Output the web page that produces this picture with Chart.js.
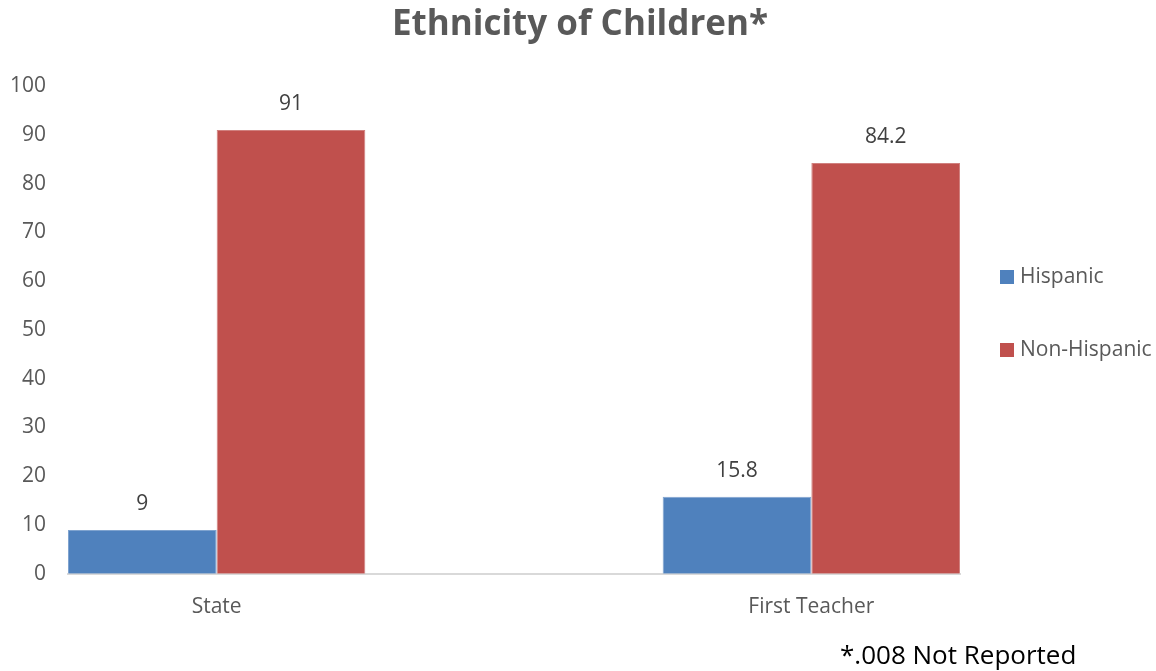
<!DOCTYPE html>
<html>
<head>
<meta charset="utf-8">
<style>
  html, body { margin: 0; padding: 0; background: #fff; }
  #wrap { position: relative; width: 1156px; height: 671px; }
  #note { position: absolute; left: 840px; top: 641px; font: 26px/26px "Open Sans", sans-serif; color: #000; white-space: nowrap; }
</style>
</head>
<body>
<div id="wrap">
  <canvas id="ethnicityChart" width="1156" height="671"></canvas>
  <div id="note">*.008 Not Reported</div>
</div>
<script src="https://cdn.jsdelivr.net/npm/chart.js"></script>
<script>
  const categories = ['State', 'First Teacher'];
  const hispanic = [9, 15.8];
  const nonHispanic = [91, 84.2];
  const yTicks = [0, 10, 20, 30, 40, 50, 60, 70, 80, 90, 100];

  const FONT = '"Open Sans", sans-serif';

  // value above each bar
  const valueLabels = {
    id: 'valueLabels',
    afterDatasetsDraw(chart) {
      const ctx = chart.ctx;
      ctx.save();
      ctx.font = '21px ' + FONT;
      ctx.fillStyle = '#404040';
      ctx.textAlign = 'center';
      ctx.textBaseline = 'middle';
      chart.data.datasets.forEach((ds, i) => {
        chart.getDatasetMeta(i).data.forEach((bar, j) => {
          ctx.fillText(String(ds.data[j].y), bar.x, bar.y - 26);
        });
      });
      ctx.restore();
    }
  };

  // legend on the right, Excel style spacing
  const sideLegend = {
    id: 'sideLegend',
    afterDraw(chart) {
      const ctx = chart.ctx;
      const x = chart.chartArea.right + 40;
      ctx.save();
      ctx.font = '21px ' + FONT;
      ctx.textBaseline = 'middle';
      ctx.textAlign = 'left';
      chart.data.datasets.forEach((ds, i) => {
        const y = 277 + i * 73;
        ctx.fillStyle = ds.backgroundColor;
        ctx.fillRect(x, y - 7, 14, 14);
        ctx.fillStyle = '#595959';
        ctx.fillText(ds.label, x + 20, y);
      });
      ctx.restore();
    }
  };

  const ctx = document.getElementById('ethnicityChart').getContext('2d');
  const chart = new Chart(ctx, {
    type: 'bar',
    data: {
      datasets: [{
        label: 'Hispanic',
        data: hispanic.map((v, i) => ({ x: i, y: v })),
        backgroundColor: '#4F81BD',
        borderColor: '#7FA3CF',
        borderWidth: 1
      }, {
        label: 'Non-Hispanic',
        data: nonHispanic.map((v, i) => ({ x: i, y: v })),
        backgroundColor: '#C0504D',
        borderColor: '#D0807E',
        borderWidth: 1
      }]
    },
    options: {
      responsive: false,
      animation: false,
      layout: { padding: { left: 4, right: 0, top: 0, bottom: 38 } },
      categoryPercentage: 0.5,
      barPercentage: 1,
      plugins: {
        title: {
          display: true,
          text: 'Ethnicity of Children*',
          color: '#595959',
          font: { family: FONT, size: 35, weight: 'bold' },
          padding: { top: 4, bottom: 40 }
        },
        legend: { display: false },
        tooltip: { enabled: false }
      },
      scales: {
        x: {
          type: 'linear',
          offset: false,
          min: -0.25,
          max: 1.25,
          afterBuildTicks(scale) { scale.ticks = categories.map((c, i) => ({ value: i })); },
          grid: { display: false },
          border: { color: '#D9D9D9', width: 2 },
          ticks: {
            color: '#595959',
            font: { family: FONT, size: 21 },
            padding: 13,
            maxRotation: 0,
            callback: v => categories[v]
          }
        },
        y: {
          min: 0,
          max: 100,
          afterBuildTicks(scale) { scale.ticks = yTicks.map(v => ({ value: v })); },
          afterFit(scale) { scale.width = 64; },
          grid: { display: false, drawTicks: false },
          border: { display: false },
          ticks: { color: '#595959', font: { family: FONT, size: 21 }, padding: 22 }
        },
        legendSpace: {
          type: 'linear',
          position: 'right',
          afterFit(scale) { scale.width = 196; },
          grid: { display: false },
          border: { display: false },
          ticks: { display: false }
        }
      }
    },
    plugins: [valueLabels, sideLegend]
  });
</script>
</body>
</html>
